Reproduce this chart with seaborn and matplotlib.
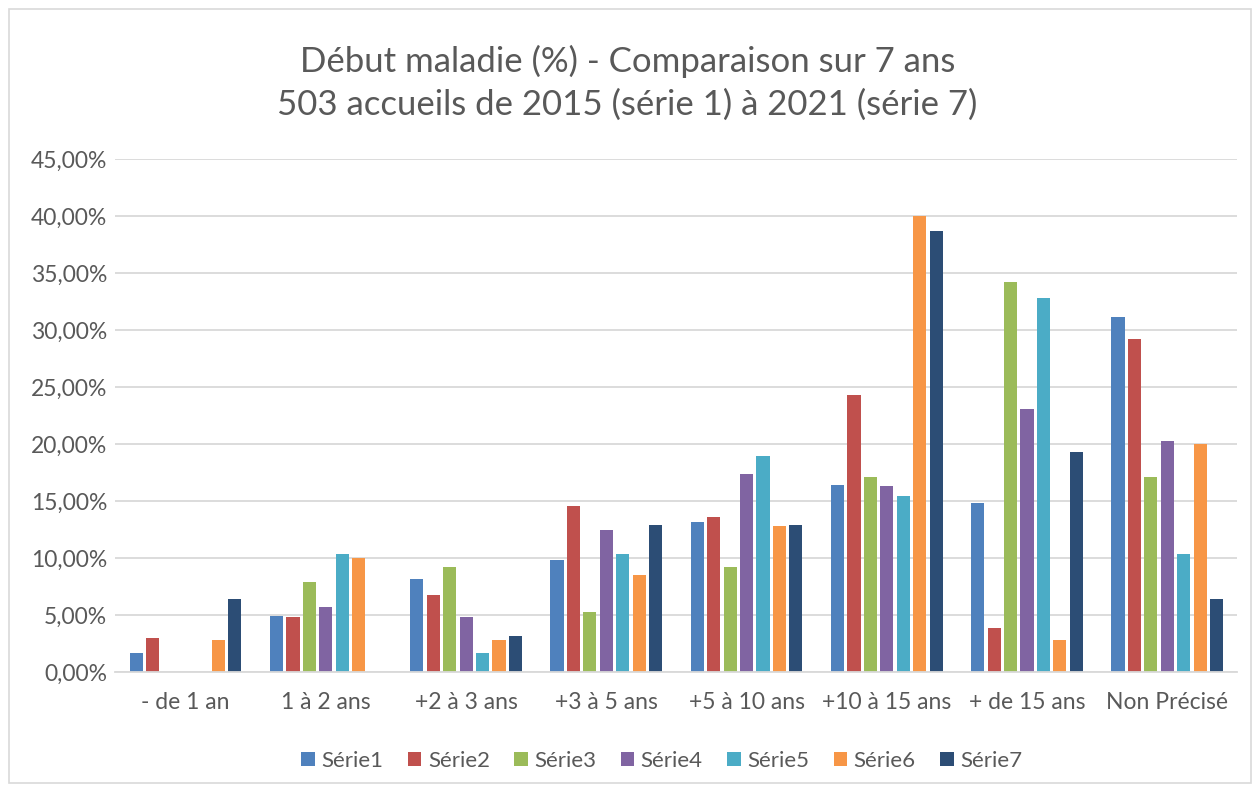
import matplotlib
matplotlib.use('Agg')
import matplotlib.pyplot as plt
import matplotlib.ticker as mticker
from matplotlib.patches import Rectangle
import pandas as pd
import seaborn as sns

# categories and series (values in %)
categories = ['- de 1 an', '1 à 2 ans', '+2 à 3 ans', '+3 à 5 ans',
              '+5 à 10 ans', '+10 à 15 ans', '+ de 15 ans', 'Non Précisé']
series_names = ['Série1', 'Série2', 'Série3', 'Série4', 'Série5', 'Série6', 'Série7']

serie1 = [1.67, 4.94, 8.21, 9.81, 13.18, 16.45, 14.81, 31.19]
serie2 = [2.99, 4.81, 6.82, 14.56, 13.65, 24.31, 3.90, 29.25]
serie3 = [0.0, 7.92, 9.25, 5.28, 9.25, 17.14, 34.21, 17.14]
serie4 = [0.0, 5.75, 4.81, 12.52, 17.39, 16.32, 23.08, 20.25]
serie5 = [0.0, 10.41, 1.67, 10.41, 18.99, 15.50, 32.83, 10.41]
serie6 = [2.86, 10.06, 2.86, 8.55, 12.83, 40.03, 2.86, 20.03]
serie7 = [6.45, 0.0, 3.18, 12.96, 12.96, 38.74, 19.34, 6.45]

colors = ['#4F81BD', '#C0504D', '#9BBB59', '#8064A2', '#4BACC6', '#F79646', '#2C4D75']

rows = []
for name, vals in zip(series_names, [serie1, serie2, serie3, serie4, serie5, serie6, serie7]):
    for cat, v in zip(categories, vals):
        rows.append({'cat': cat, 'serie': name, 'value': v})
df = pd.DataFrame(rows)

sns.set_style('white')
plt.rcParams['font.family'] = ['Lato', 'DejaVu Sans']

fig = plt.figure(figsize=(12.55, 7.89), dpi=100)
ax = fig.add_axes([0.092, 0.148, 0.894, 0.650])

sns.barplot(data=df, x='cat', y='value', hue='serie', order=categories,
            hue_order=series_names, palette=colors, width=0.82, gap=0.2,
            linewidth=0, saturation=1, ax=ax, legend=True)

ax.set_xlim(-0.5, len(categories) - 0.5)
ax.set_ylim(0, 45)
ax.set_yticks(range(0, 46, 5))
ax.yaxis.set_major_formatter(mticker.FuncFormatter(lambda v, p: f'{v:.2f}%'.replace('.', ',')))
ax.grid(axis='y', color='#D9D9D9', linewidth=1.3)
ax.set_axisbelow(True)
for s in ['left', 'right', 'top']:
    ax.spines[s].set_visible(False)
ax.spines['bottom'].set_color('#D9D9D9')
ax.spines['bottom'].set_linewidth(1.3)
ax.tick_params(axis='both', length=0, labelsize=16.5, labelcolor='#595959')
ax.tick_params(axis='x', pad=14)
ax.tick_params(axis='y', pad=6)
ax.set_xlabel('')
ax.set_ylabel('')

fig.suptitle('Début maladie (%) - Comparaison sur 7 ans\n503 accueils de 2015 (série 1) à 2021 (série 7)',
             y=0.943, fontsize=25, color='#595959', linespacing=1.4)

leg = ax.legend(loc='upper center', bbox_to_anchor=(0.487, -0.115), ncol=7, frameon=False,
                fontsize=16, handlelength=0.6, handleheight=0.6, handletextpad=0.3,
                columnspacing=1.1)
for t in leg.get_texts():
    t.set_color('#595959')

# light border around chart area
fig.patches.append(Rectangle((0.007, 0.008), 0.99, 0.98, transform=fig.transFigure,
                             fill=False, edgecolor='#D9D9D9', linewidth=1.2))

fig.savefig('out.png', dpi=100)
